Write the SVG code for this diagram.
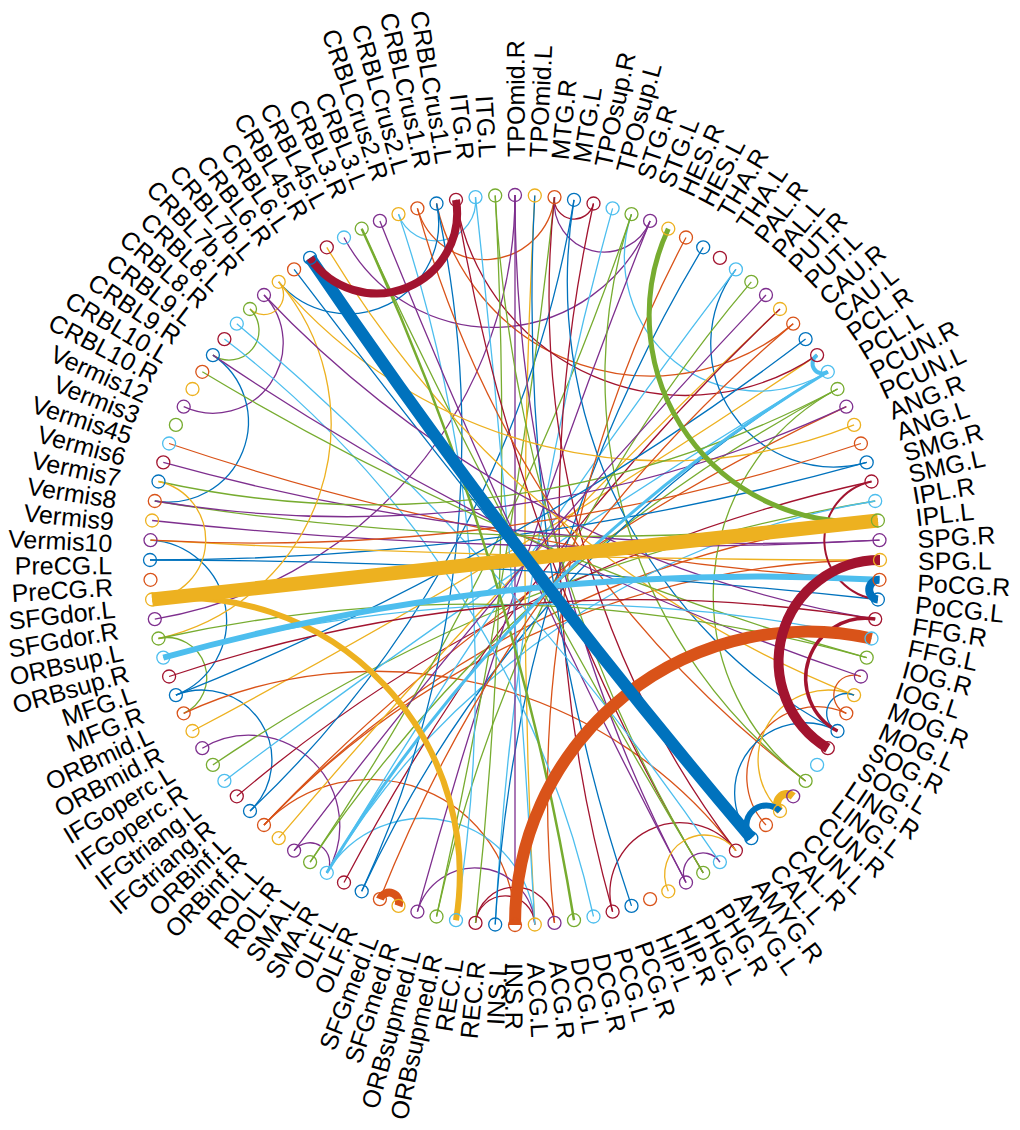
<svg xmlns="http://www.w3.org/2000/svg" width="1020" height="1130" viewBox="0 0 1020 1130">
<style>
.e{fill:none;stroke-width:1.3}
.n{fill:none;stroke-width:1.3}
.B{stroke:#0072BD}.O{stroke:#D95319}.Y{stroke:#EDB120}.P{stroke:#7E2F8E}.G{stroke:#77AC30}.L{stroke:#4DBEEE}.R{stroke:#A2142F}
text{font-family:"Liberation Sans",Arial,sans-serif;font-size:25px;fill:#000}
.r{text-anchor:start}.l{text-anchor:end}
</style>
<rect width="1020" height="1130" fill="#fff"/>
<g id="edges">
<path class="e L" d="M398.5,214.1 A39.7,39.7 0 0 0 475.5,197.1"/>
<path class="e O" d="M417.4,208.3 A70.03,70.03 0 0 0 554.5,197.1"/>
<path class="e R" d="M554.5,197.1 A19.79,19.79 0 0 0 593.5,203.5"/>
<path class="e P" d="M554.5,197.1 A49.73,49.73 0 0 0 650.1,220.9"/>
<path class="e P" d="M344,237.5 A168.8,168.8 0 0 0 650.1,220.9"/>
<path class="e B" d="M278.7,281.8 A90.77,90.77 0 0 0 436.5,203.5"/>
<path class="e P" d="M183.7,406.7 A70.03,70.03 0 0 0 264,295"/>
<path class="e B" d="M154.8,501 A80.34,80.34 0 0 0 212.9,355.1"/>
<path class="e G" d="M183.7,713.3 A39.7,39.7 0 0 0 158.5,638.5"/>
<path class="e B" d="M175.9,695.1 A80.34,80.34 0 0 0 150.5,540.2"/>
<path class="e B" d="M250,811 A70.03,70.03 0 0 0 175.9,695.1"/>
<path class="e P" d="M326.8,872.8 A90.77,90.77 0 0 0 202.3,748.2"/>
<path class="e P" d="M326.8,872.8 A19.79,19.79 0 0 0 294.1,850.6"/>
<path class="e Y" d="M250,309 A19.79,19.79 0 0 0 278.7,281.8"/>
<path class="e G" d="M212.9,355.1 A29.72,29.72 0 0 0 250,309"/>
<path class="e Y" d="M192.5,731 A6734,6734 0 0 0 817.1,355.1"/>
<path class="e G" d="M875.2,501 A1657,1657 0 0 0 212.9,764.9"/>
<path class="e L" d="M631.5,214.1 A134.09,134.09 0 0 0 827.8,371.8"/>
<path class="e O" d="M436.5,203.5 A219.5,219.5 0 0 0 793.2,323.7"/>
<path class="e R" d="M456,199.8 A233.1,233.1 0 0 0 817.1,355.1"/>
<path class="e B" d="M735.9,269.4 A122.98,122.98 0 0 0 866.7,462.4"/>
<path class="e P" d="M154.8,619.1 A430.2,430.2 0 0 0 515,195"/>
<path class="e O" d="M735.9,850.6 A454,454 0 0 0 183.7,713.3"/>
<path class="e L" d="M827.8,371.8 A6734,6734 0 0 0 224.4,780.9"/>
<path class="e R" d="M871.5,481.5 A1467,1467 0 0 0 236.8,796.3"/>
<path class="e B" d="M250,811 A1083,1083 0 0 0 574,199.8"/>
<path class="e O" d="M846.3,406.7 A1899,1899 0 0 0 264,825"/>
<path class="e O" d="M877.9,520.5 A993.3,993.3 0 0 0 264,825"/>
<path class="e O" d="M880,560 A849.6,849.6 0 0 0 264,825"/>
<path class="e O" d="M515,925 A145.42,145.42 0 0 0 264,825"/>
<path class="e Y" d="M780,309 A6734,6734 0 0 0 278.7,838.2"/>
<path class="e G" d="M837.5,389 A1467,1467 0 0 0 310.1,862.1"/>
<path class="e G" d="M310.1,862.1 A2679,2679 0 0 0 631.5,214.1"/>
<path class="e L" d="M875.2,501 A788.9,788.9 0 0 0 326.8,872.8"/>
<path class="e L" d="M735.9,269.4 A6734,6734 0 0 0 326.8,872.8"/>
<path class="e L" d="M534.8,924.5 A112.07,112.07 0 0 0 326.8,872.8"/>
<path class="e R" d="M780,309 A2228,2228 0 0 0 344,882.5"/>
<path class="e B" d="M361.7,891.3 A1083,1083 0 0 0 436.5,203.5"/>
<path class="e B" d="M827.8,371.8 A1188,1188 0 0 0 361.7,891.3"/>
<path class="e P" d="M534.8,924.5 A59.84,59.84 0 0 0 417.4,911.7"/>
<path class="e P" d="M650.1,220.9 A6734,6734 0 0 0 417.4,911.7"/>
<path class="e G" d="M751.3,281.8 A1467,1467 0 0 0 436.5,916.5"/>
<path class="e G" d="M436.5,916.5 A6734,6734 0 0 0 554.5,197.1"/>
<path class="e L" d="M456,920.2 A1467,1467 0 0 0 398.5,214.1"/>
<path class="e R" d="M534.8,924.5 A29.72,29.72 0 0 0 475.5,922.9"/>
<path class="e R" d="M554.5,922.9 A39.7,39.7 0 0 0 475.5,922.9"/>
<path class="e G" d="M475.5,922.9 A4485,4485 0 0 0 495.2,195.5"/>
<path class="e L" d="M612.6,208.3 A3355,3355 0 0 0 495.2,924.5"/>
<path class="e B" d="M703.2,247.3 A1467,1467 0 0 0 495.2,924.5"/>
<path class="e P" d="M515,195 L515,925"/>
<path class="e Y" d="M534.8,195.5 A6734,6734 0 0 0 534.8,924.5"/>
<path class="e L" d="M534.8,924.5 A13469,13469 0 0 0 475.5,197.1"/>
<path class="e O" d="M686,237.5 A1188,1188 0 0 0 554.5,922.9"/>
<path class="e L" d="M593.5,916.5 A993.3,993.3 0 0 0 224.4,339.1"/>
<path class="e R" d="M593.5,203.5 A1467,1467 0 0 0 612.6,911.7"/>
<path class="e R" d="M735.9,850.6 A70.03,70.03 0 0 0 612.6,911.7"/>
<path class="e B" d="M534.8,195.5 A1899,1899 0 0 0 631.5,905.9"/>
<path class="e P" d="M515,195 A1467,1467 0 0 0 686,882.5"/>
<path class="e P" d="M379.9,220.9 A6734,6734 0 0 0 686,882.5"/>
<path class="e R" d="M456,199.8 A1899,1899 0 0 0 703.2,872.8"/>
<path class="e G" d="M495.2,195.5 A1467,1467 0 0 0 703.2,872.8"/>
<path class="e G" d="M361.7,228.7 A6734,6734 0 0 0 703.2,872.8"/>
<path class="e L" d="M719.9,862.1 A2679,2679 0 0 0 236.8,323.7"/>
<path class="e R" d="M554.5,197.1 A916,916 0 0 0 735.9,850.6"/>
<path class="e O" d="M846.3,713.3 A70.03,70.03 0 0 0 766,825"/>
<path class="e O" d="M417.4,208.3 A1083,1083 0 0 0 805.6,780.9"/>
<path class="e G" d="M837.5,389 A233.1,233.1 0 0 0 805.6,780.9"/>
<path class="e G" d="M631.5,214.1 A508.3,508.3 0 0 0 805.6,780.9"/>
<path class="e B" d="M574,199.8 A508.3,508.3 0 0 0 837.5,731"/>
<path class="e B" d="M877.9,599.5 A6734,6734 0 0 0 150,560"/>
<path class="e B" d="M150,560 A2679,2679 0 0 0 866.7,462.4"/>
<path class="e O" d="M169.1,443.5 A2679,2679 0 0 0 879.5,579.8"/>
<path class="e Y" d="M150.5,540.2 A13469,13469 0 0 0 880,560"/>
<path class="e P" d="M152.1,520.5 A4485,4485 0 0 0 879.5,540.2"/>
<path class="e P" d="M163.3,462.4 A2228,2228 0 0 0 879.5,540.2"/>
<path class="e G" d="M154.8,501 A2679,2679 0 0 0 877.9,520.5"/>
<path class="e O" d="M150.5,540.2 A1899,1899 0 0 0 860.9,443.5"/>
<path class="e Y" d="M278.7,281.8 A508.3,508.3 0 0 0 854.1,424.9"/>
<path class="e P" d="M154.8,501 A1188,1188 0 0 0 846.3,406.7"/>
<path class="e G" d="M158.5,481.5 A993.3,993.3 0 0 0 837.5,389"/>
<path class="e B" d="M175.9,695.1 A2679,2679 0 0 0 805.6,339.1"/>
<path class="e Y" d="M326.8,247.3 A1083,1083 0 0 0 854.1,695.1"/>
<path class="e B" d="M294.1,269.4 A13469,13469 0 0 0 751.3,838.2"/>
<path class="e Y" d="M158.5,638.5 A219.5,219.5 0 0 0 278.7,281.8"/>
<path class="e P" d="M264,295 A1083,1083 0 0 0 875.2,619.1"/>
<path class="e P" d="M212.9,355.1 A2679,2679 0 0 0 860.9,676.5"/>
<path class="e G" d="M202.3,371.8 A2679,2679 0 0 0 866.7,657.6"/>
<path class="e G" d="M866.7,657.6 A1467,1467 0 0 0 158.5,638.5"/>
<path class="e Y" d="M152.1,599.5 A59.84,59.84 0 0 0 158.5,481.5"/>
<path class="e L" d="M871.5,638.5 A1467,1467 0 0 0 163.3,657.6"/>
<path class="e R" d="M875.2,619.1 A1467,1467 0 0 0 169.1,676.5"/>
<path class="e P" d="M766,295 A6734,6734 0 0 0 294.1,850.6"/>
<path class="e O" d="M793.2,323.7 A1467,1467 0 0 0 379.9,899.1"/>
<path class="e B" d="M837.5,731 A70.03,70.03 0 0 0 751.3,838.2"/>
<path class="e Y" d="M854.1,695.1 A70.03,70.03 0 0 0 780,811"/>
<path class="e Y" d="M735.9,850.6 A39.7,39.7 0 0 0 668.3,891.3"/>
<path class="e P" d="M719.9,862.1 A19.79,19.79 0 0 0 686,882.5"/>
<path class="e B" d="M854.1,695.1 A19.79,19.79 0 0 0 837.5,731"/>
<path class="e O" d="M860.9,676.5 A19.79,19.79 0 0 0 846.3,713.3"/>
<path class="e R" style="stroke-width:2" d="M871.5,481.5 A59.84,59.84 0 0 0 877.9,599.5"/>
<path class="e G" style="stroke-width:2.5" d="M574,920.2 A2679,2679 0 0 0 361.7,228.7"/>
<path class="e L" style="stroke-width:3" d="M827.8,371.8 A1467,1467 0 0 0 326.8,872.8"/>
<path class="e R" style="stroke-width:3.5" d="M875.2,619.1 A59.84,59.84 0 0 0 837.5,731"/>
<path class="e Y" style="stroke-width:6" d="M456,920.2 A277,277 0 0 0 152.1,599.5"/>
<path class="e G" style="stroke-width:5" d="M668.3,228.7 A206.3,206.3 0 0 0 877.9,520.5"/>
<path class="e Y" style="stroke-width:14" d="M152.1,599.5 L877.9,520.5"/>
<path class="e L" style="stroke-width:6" d="M879.5,579.8 A2228,2228 0 0 0 163.3,657.6"/>
<path class="e O" style="stroke-width:12" d="M871.5,638.5 A292.8,292.8 0 0 0 515,925"/>
<path class="e B" style="stroke-width:12" d="M310.1,257.9 A6734,6734 0 0 0 751.3,838.2"/>
<path class="e R" style="stroke-width:10" d="M880,560 A101.34,101.34 0 0 0 827.8,748.2"/>
<path class="e R" style="stroke-width:8" d="M310.1,257.9 A80.34,80.34 0 0 0 456,199.8"/>
<path class="e O" style="stroke-width:8" d="M398.5,905.9 A9.89,9.89 0 0 0 379.9,899.1"/>
<path class="e Y" style="stroke-width:8" d="M793.2,796.3 A9.89,9.89 0 0 0 780,811"/>
<path class="e B" style="stroke-width:6" d="M780,811 A19.79,19.79 0 0 0 751.3,838.2"/>
<path class="e B" style="stroke-width:8" d="M879.5,579.8 A9.89,9.89 0 0 0 877.9,599.5"/>
<path class="e L" style="stroke-width:4" d="M817.1,355.1 A9.89,9.89 0 0 0 827.8,371.8"/>
</g>
<g id="nodes">
<g id="n1"><circle class="n B" cx="150" cy="560" r="6.5"/><text class="l" transform="rotate(-0.3 515 560)" x="112" y="572">PreCG.L</text></g>
<g id="n2"><circle class="n O" cx="150.5" cy="579.8" r="6.5"/><text class="l" transform="rotate(-3.4 515 560)" x="112" y="572">PreCG.R</text></g>
<g id="n3"><circle class="n Y" cx="152.1" cy="599.5" r="6.5"/><text class="l" transform="rotate(-6.51 515 560)" x="112" y="572">SFGdor.L</text></g>
<g id="n4"><circle class="n P" cx="154.8" cy="619.1" r="6.5"/><text class="l" transform="rotate(-9.61 515 560)" x="112" y="572">SFGdor.R</text></g>
<g id="n5"><circle class="n G" cx="158.5" cy="638.5" r="6.5"/><text class="l" transform="rotate(-12.71 515 560)" x="112" y="572">ORBsup.L</text></g>
<g id="n6"><circle class="n L" cx="163.3" cy="657.6" r="6.5"/><text class="l" transform="rotate(-15.82 515 560)" x="112" y="572">ORBsup.R</text></g>
<g id="n7"><circle class="n R" cx="169.1" cy="676.5" r="6.5"/><text class="l" transform="rotate(-18.92 515 560)" x="112" y="572">MFG.L</text></g>
<g id="n8"><circle class="n B" cx="175.9" cy="695.1" r="6.5"/><text class="l" transform="rotate(-22.02 515 560)" x="112" y="572">MFG.R</text></g>
<g id="n9"><circle class="n O" cx="183.7" cy="713.3" r="6.5"/><text class="l" transform="rotate(-25.13 515 560)" x="112" y="572">ORBmid.L</text></g>
<g id="n10"><circle class="n Y" cx="192.5" cy="731" r="6.5"/><text class="l" transform="rotate(-28.23 515 560)" x="112" y="572">ORBmid.R</text></g>
<g id="n11"><circle class="n P" cx="202.3" cy="748.2" r="6.5"/><text class="l" transform="rotate(-31.33 515 560)" x="112" y="572">IFGoperc.L</text></g>
<g id="n12"><circle class="n G" cx="212.9" cy="764.9" r="6.5"/><text class="l" transform="rotate(-34.44 515 560)" x="112" y="572">IFGoperc.R</text></g>
<g id="n13"><circle class="n L" cx="224.4" cy="780.9" r="6.5"/><text class="l" transform="rotate(-37.54 515 560)" x="112" y="572">IFGtriang.L</text></g>
<g id="n14"><circle class="n R" cx="236.8" cy="796.3" r="6.5"/><text class="l" transform="rotate(-40.65 515 560)" x="112" y="572">IFGtriang.R</text></g>
<g id="n15"><circle class="n B" cx="250" cy="811" r="6.5"/><text class="l" transform="rotate(-43.75 515 560)" x="112" y="572">ORBinf.L</text></g>
<g id="n16"><circle class="n O" cx="264" cy="825" r="6.5"/><text class="l" transform="rotate(-46.85 515 560)" x="112" y="572">ORBinf.R</text></g>
<g id="n17"><circle class="n Y" cx="278.7" cy="838.2" r="6.5"/><text class="l" transform="rotate(-49.96 515 560)" x="112" y="572">ROL.L</text></g>
<g id="n18"><circle class="n P" cx="294.1" cy="850.6" r="6.5"/><text class="l" transform="rotate(-53.06 515 560)" x="112" y="572">ROL.R</text></g>
<g id="n19"><circle class="n G" cx="310.1" cy="862.1" r="6.5"/><text class="l" transform="rotate(-56.16 515 560)" x="112" y="572">SMA.L</text></g>
<g id="n20"><circle class="n L" cx="326.8" cy="872.8" r="6.5"/><text class="l" transform="rotate(-59.27 515 560)" x="112" y="572">SMA.R</text></g>
<g id="n21"><circle class="n R" cx="344" cy="882.5" r="6.5"/><text class="l" transform="rotate(-62.37 515 560)" x="112" y="572">OLF.L</text></g>
<g id="n22"><circle class="n B" cx="361.7" cy="891.3" r="6.5"/><text class="l" transform="rotate(-65.47 515 560)" x="112" y="572">OLF.R</text></g>
<g id="n23"><circle class="n O" cx="379.9" cy="899.1" r="6.5"/><text class="l" transform="rotate(-68.58 515 560)" x="112" y="572">SFGmed.L</text></g>
<g id="n24"><circle class="n Y" cx="398.5" cy="905.9" r="6.5"/><text class="l" transform="rotate(-71.68 515 560)" x="112" y="572">SFGmed.R</text></g>
<g id="n25"><circle class="n P" cx="417.4" cy="911.7" r="6.5"/><text class="l" transform="rotate(-74.78 515 560)" x="112" y="572">ORBsupmed.L</text></g>
<g id="n26"><circle class="n G" cx="436.5" cy="916.5" r="6.5"/><text class="l" transform="rotate(-77.89 515 560)" x="112" y="572">ORBsupmed.R</text></g>
<g id="n27"><circle class="n L" cx="456" cy="920.2" r="6.5"/><text class="l" transform="rotate(-80.99 515 560)" x="112" y="572">REC.L</text></g>
<g id="n28"><circle class="n R" cx="475.5" cy="922.9" r="6.5"/><text class="l" transform="rotate(-84.09 515 560)" x="112" y="572">REC.R</text></g>
<g id="n29"><circle class="n B" cx="495.2" cy="924.5" r="6.5"/><text class="l" transform="rotate(-87.2 515 560)" x="112" y="572">INS.L</text></g>
<g id="n30"><circle class="n O" cx="515" cy="925" r="6.5"/><text class="r" transform="rotate(89.7 515 560)" x="918" y="572">INS.R</text></g>
<g id="n31"><circle class="n Y" cx="534.8" cy="924.5" r="6.5"/><text class="r" transform="rotate(86.6 515 560)" x="918" y="572">ACG.L</text></g>
<g id="n32"><circle class="n P" cx="554.5" cy="922.9" r="6.5"/><text class="r" transform="rotate(83.49 515 560)" x="918" y="572">ACG.R</text></g>
<g id="n33"><circle class="n G" cx="574" cy="920.2" r="6.5"/><text class="r" transform="rotate(80.39 515 560)" x="918" y="572">DCG.L</text></g>
<g id="n34"><circle class="n L" cx="593.5" cy="916.5" r="6.5"/><text class="r" transform="rotate(77.29 515 560)" x="918" y="572">DCG.R</text></g>
<g id="n35"><circle class="n R" cx="612.6" cy="911.7" r="6.5"/><text class="r" transform="rotate(74.18 515 560)" x="918" y="572">PCG.L</text></g>
<g id="n36"><circle class="n B" cx="631.5" cy="905.9" r="6.5"/><text class="r" transform="rotate(71.08 515 560)" x="918" y="572">PCG.R</text></g>
<g id="n37"><circle class="n O" cx="650.1" cy="899.1" r="6.5"/><text class="r" transform="rotate(67.98 515 560)" x="918" y="572">HIP.L</text></g>
<g id="n38"><circle class="n Y" cx="668.3" cy="891.3" r="6.5"/><text class="r" transform="rotate(64.87 515 560)" x="918" y="572">HIP.R</text></g>
<g id="n39"><circle class="n P" cx="686" cy="882.5" r="6.5"/><text class="r" transform="rotate(61.77 515 560)" x="918" y="572">PHG.L</text></g>
<g id="n40"><circle class="n G" cx="703.2" cy="872.8" r="6.5"/><text class="r" transform="rotate(58.67 515 560)" x="918" y="572">PHG.R</text></g>
<g id="n41"><circle class="n L" cx="719.9" cy="862.1" r="6.5"/><text class="r" transform="rotate(55.56 515 560)" x="918" y="572">AMYG.L</text></g>
<g id="n42"><circle class="n R" cx="735.9" cy="850.6" r="6.5"/><text class="r" transform="rotate(52.46 515 560)" x="918" y="572">AMYG.R</text></g>
<g id="n43"><circle class="n B" cx="751.3" cy="838.2" r="6.5"/><text class="r" transform="rotate(49.36 515 560)" x="918" y="572">CAL.L</text></g>
<g id="n44"><circle class="n O" cx="766" cy="825" r="6.5"/><text class="r" transform="rotate(46.25 515 560)" x="918" y="572">CAL.R</text></g>
<g id="n45"><circle class="n Y" cx="780" cy="811" r="6.5"/><text class="r" transform="rotate(43.15 515 560)" x="918" y="572">CUN.L</text></g>
<g id="n46"><circle class="n P" cx="793.2" cy="796.3" r="6.5"/><text class="r" transform="rotate(40.04 515 560)" x="918" y="572">CUN.R</text></g>
<g id="n47"><circle class="n G" cx="805.6" cy="780.9" r="6.5"/><text class="r" transform="rotate(36.94 515 560)" x="918" y="572">LING.L</text></g>
<g id="n48"><circle class="n L" cx="817.1" cy="764.9" r="6.5"/><text class="r" transform="rotate(33.84 515 560)" x="918" y="572">LING.R</text></g>
<g id="n49"><circle class="n R" cx="827.8" cy="748.2" r="6.5"/><text class="r" transform="rotate(30.73 515 560)" x="918" y="572">SOG.L</text></g>
<g id="n50"><circle class="n B" cx="837.5" cy="731" r="6.5"/><text class="r" transform="rotate(27.63 515 560)" x="918" y="572">SOG.R</text></g>
<g id="n51"><circle class="n O" cx="846.3" cy="713.3" r="6.5"/><text class="r" transform="rotate(24.53 515 560)" x="918" y="572">MOG.L</text></g>
<g id="n52"><circle class="n Y" cx="854.1" cy="695.1" r="6.5"/><text class="r" transform="rotate(21.42 515 560)" x="918" y="572">MOG.R</text></g>
<g id="n53"><circle class="n P" cx="860.9" cy="676.5" r="6.5"/><text class="r" transform="rotate(18.32 515 560)" x="918" y="572">IOG.L</text></g>
<g id="n54"><circle class="n G" cx="866.7" cy="657.6" r="6.5"/><text class="r" transform="rotate(15.22 515 560)" x="918" y="572">IOG.R</text></g>
<g id="n55"><circle class="n L" cx="871.5" cy="638.5" r="6.5"/><text class="r" transform="rotate(12.11 515 560)" x="918" y="572">FFG.L</text></g>
<g id="n56"><circle class="n R" cx="875.2" cy="619.1" r="6.5"/><text class="r" transform="rotate(9.01 515 560)" x="918" y="572">FFG.R</text></g>
<g id="n57"><circle class="n B" cx="877.9" cy="599.5" r="6.5"/><text class="r" transform="rotate(5.91 515 560)" x="918" y="572">PoCG.L</text></g>
<g id="n58"><circle class="n O" cx="879.5" cy="579.8" r="6.5"/><text class="r" transform="rotate(2.8 515 560)" x="918" y="572">PoCG.R</text></g>
<g id="n59"><circle class="n Y" cx="880" cy="560" r="6.5"/><text class="r" transform="rotate(-0.3 515 560)" x="918" y="572">SPG.L</text></g>
<g id="n60"><circle class="n P" cx="879.5" cy="540.2" r="6.5"/><text class="r" transform="rotate(-3.4 515 560)" x="918" y="572">SPG.R</text></g>
<g id="n61"><circle class="n G" cx="877.9" cy="520.5" r="6.5"/><text class="r" transform="rotate(-6.51 515 560)" x="918" y="572">IPL.L</text></g>
<g id="n62"><circle class="n L" cx="875.2" cy="501" r="6.5"/><text class="r" transform="rotate(-9.61 515 560)" x="918" y="572">IPL.R</text></g>
<g id="n63"><circle class="n R" cx="871.5" cy="481.5" r="6.5"/><text class="r" transform="rotate(-12.71 515 560)" x="918" y="572">SMG.L</text></g>
<g id="n64"><circle class="n B" cx="866.7" cy="462.4" r="6.5"/><text class="r" transform="rotate(-15.82 515 560)" x="918" y="572">SMG.R</text></g>
<g id="n65"><circle class="n O" cx="860.9" cy="443.5" r="6.5"/><text class="r" transform="rotate(-18.92 515 560)" x="918" y="572">ANG.L</text></g>
<g id="n66"><circle class="n Y" cx="854.1" cy="424.9" r="6.5"/><text class="r" transform="rotate(-22.02 515 560)" x="918" y="572">ANG.R</text></g>
<g id="n67"><circle class="n P" cx="846.3" cy="406.7" r="6.5"/><text class="r" transform="rotate(-25.13 515 560)" x="918" y="572">PCUN.L</text></g>
<g id="n68"><circle class="n G" cx="837.5" cy="389" r="6.5"/><text class="r" transform="rotate(-28.23 515 560)" x="918" y="572">PCUN.R</text></g>
<g id="n69"><circle class="n L" cx="827.8" cy="371.8" r="6.5"/><text class="r" transform="rotate(-31.33 515 560)" x="918" y="572">PCL.L</text></g>
<g id="n70"><circle class="n R" cx="817.1" cy="355.1" r="6.5"/><text class="r" transform="rotate(-34.44 515 560)" x="918" y="572">PCL.R</text></g>
<g id="n71"><circle class="n B" cx="805.6" cy="339.1" r="6.5"/><text class="r" transform="rotate(-37.54 515 560)" x="918" y="572">CAU.L</text></g>
<g id="n72"><circle class="n O" cx="793.2" cy="323.7" r="6.5"/><text class="r" transform="rotate(-40.65 515 560)" x="918" y="572">CAU.R</text></g>
<g id="n73"><circle class="n Y" cx="780" cy="309" r="6.5"/><text class="r" transform="rotate(-43.75 515 560)" x="918" y="572">PUT.L</text></g>
<g id="n74"><circle class="n P" cx="766" cy="295" r="6.5"/><text class="r" transform="rotate(-46.85 515 560)" x="918" y="572">PUT.R</text></g>
<g id="n75"><circle class="n G" cx="751.3" cy="281.8" r="6.5"/><text class="r" transform="rotate(-49.96 515 560)" x="918" y="572">PAL.L</text></g>
<g id="n76"><circle class="n L" cx="735.9" cy="269.4" r="6.5"/><text class="r" transform="rotate(-53.06 515 560)" x="918" y="572">PAL.R</text></g>
<g id="n77"><circle class="n R" cx="719.9" cy="257.9" r="6.5"/><text class="r" transform="rotate(-56.16 515 560)" x="918" y="572">THA.L</text></g>
<g id="n78"><circle class="n B" cx="703.2" cy="247.3" r="6.5"/><text class="r" transform="rotate(-59.27 515 560)" x="918" y="572">THA.R</text></g>
<g id="n79"><circle class="n O" cx="686" cy="237.5" r="6.5"/><text class="r" transform="rotate(-62.37 515 560)" x="918" y="572">HES.L</text></g>
<g id="n80"><circle class="n Y" cx="668.3" cy="228.7" r="6.5"/><text class="r" transform="rotate(-65.47 515 560)" x="918" y="572">HES.R</text></g>
<g id="n81"><circle class="n P" cx="650.1" cy="220.9" r="6.5"/><text class="r" transform="rotate(-68.58 515 560)" x="918" y="572">STG.L</text></g>
<g id="n82"><circle class="n G" cx="631.5" cy="214.1" r="6.5"/><text class="r" transform="rotate(-71.68 515 560)" x="918" y="572">STG.R</text></g>
<g id="n83"><circle class="n L" cx="612.6" cy="208.3" r="6.5"/><text class="r" transform="rotate(-74.78 515 560)" x="918" y="572">TPOsup.L</text></g>
<g id="n84"><circle class="n R" cx="593.5" cy="203.5" r="6.5"/><text class="r" transform="rotate(-77.89 515 560)" x="918" y="572">TPOsup.R</text></g>
<g id="n85"><circle class="n B" cx="574" cy="199.8" r="6.5"/><text class="r" transform="rotate(-80.99 515 560)" x="918" y="572">MTG.L</text></g>
<g id="n86"><circle class="n O" cx="554.5" cy="197.1" r="6.5"/><text class="r" transform="rotate(-84.09 515 560)" x="918" y="572">MTG.R</text></g>
<g id="n87"><circle class="n Y" cx="534.8" cy="195.5" r="6.5"/><text class="r" transform="rotate(-87.2 515 560)" x="918" y="572">TPOmid.L</text></g>
<g id="n88"><circle class="n P" cx="515" cy="195" r="6.5"/><text class="r" transform="rotate(-90.3 515 560)" x="918" y="572">TPOmid.R</text></g>
<g id="n89"><circle class="n G" cx="495.2" cy="195.5" r="6.5"/><text class="l" transform="rotate(86.6 515 560)" x="112" y="572">ITG.L</text></g>
<g id="n90"><circle class="n L" cx="475.5" cy="197.1" r="6.5"/><text class="l" transform="rotate(83.49 515 560)" x="112" y="572">ITG.R</text></g>
<g id="n91"><circle class="n R" cx="456" cy="199.8" r="6.5"/><text class="l" transform="rotate(80.39 515 560)" x="112" y="572">CRBLCrus1.L</text></g>
<g id="n92"><circle class="n B" cx="436.5" cy="203.5" r="6.5"/><text class="l" transform="rotate(77.29 515 560)" x="112" y="572">CRBLCrus1.R</text></g>
<g id="n93"><circle class="n O" cx="417.4" cy="208.3" r="6.5"/><text class="l" transform="rotate(74.18 515 560)" x="112" y="572">CRBLCrus2.L</text></g>
<g id="n94"><circle class="n Y" cx="398.5" cy="214.1" r="6.5"/><text class="l" transform="rotate(71.08 515 560)" x="112" y="572">CRBLCrus2.R</text></g>
<g id="n95"><circle class="n P" cx="379.9" cy="220.9" r="6.5"/><text class="l" transform="rotate(67.98 515 560)" x="112" y="572">CRBL3.L</text></g>
<g id="n96"><circle class="n G" cx="361.7" cy="228.7" r="6.5"/><text class="l" transform="rotate(64.87 515 560)" x="112" y="572">CRBL3.R</text></g>
<g id="n97"><circle class="n L" cx="344" cy="237.5" r="6.5"/><text class="l" transform="rotate(61.77 515 560)" x="112" y="572">CRBL45.L</text></g>
<g id="n98"><circle class="n R" cx="326.8" cy="247.3" r="6.5"/><text class="l" transform="rotate(58.67 515 560)" x="112" y="572">CRBL45.R</text></g>
<g id="n99"><circle class="n B" cx="310.1" cy="257.9" r="6.5"/><text class="l" transform="rotate(55.56 515 560)" x="112" y="572">CRBL6.L</text></g>
<g id="n100"><circle class="n O" cx="294.1" cy="269.4" r="6.5"/><text class="l" transform="rotate(52.46 515 560)" x="112" y="572">CRBL6.R</text></g>
<g id="n101"><circle class="n Y" cx="278.7" cy="281.8" r="6.5"/><text class="l" transform="rotate(49.36 515 560)" x="112" y="572">CRBL7b.L</text></g>
<g id="n102"><circle class="n P" cx="264" cy="295" r="6.5"/><text class="l" transform="rotate(46.25 515 560)" x="112" y="572">CRBL7b.R</text></g>
<g id="n103"><circle class="n G" cx="250" cy="309" r="6.5"/><text class="l" transform="rotate(43.15 515 560)" x="112" y="572">CRBL8.L</text></g>
<g id="n104"><circle class="n L" cx="236.8" cy="323.7" r="6.5"/><text class="l" transform="rotate(40.04 515 560)" x="112" y="572">CRBL8.R</text></g>
<g id="n105"><circle class="n R" cx="224.4" cy="339.1" r="6.5"/><text class="l" transform="rotate(36.94 515 560)" x="112" y="572">CRBL9.L</text></g>
<g id="n106"><circle class="n B" cx="212.9" cy="355.1" r="6.5"/><text class="l" transform="rotate(33.84 515 560)" x="112" y="572">CRBL9.R</text></g>
<g id="n107"><circle class="n O" cx="202.3" cy="371.8" r="6.5"/><text class="l" transform="rotate(30.73 515 560)" x="112" y="572">CRBL10.L</text></g>
<g id="n108"><circle class="n Y" cx="192.5" cy="389" r="6.5"/><text class="l" transform="rotate(27.63 515 560)" x="112" y="572">CRBL10.R</text></g>
<g id="n109"><circle class="n P" cx="183.7" cy="406.7" r="6.5"/><text class="l" transform="rotate(24.53 515 560)" x="112" y="572">Vermis12</text></g>
<g id="n110"><circle class="n G" cx="175.9" cy="424.9" r="6.5"/><text class="l" transform="rotate(21.42 515 560)" x="112" y="572">Vermis3</text></g>
<g id="n111"><circle class="n L" cx="169.1" cy="443.5" r="6.5"/><text class="l" transform="rotate(18.32 515 560)" x="112" y="572">Vermis45</text></g>
<g id="n112"><circle class="n R" cx="163.3" cy="462.4" r="6.5"/><text class="l" transform="rotate(15.22 515 560)" x="112" y="572">Vermis6</text></g>
<g id="n113"><circle class="n B" cx="158.5" cy="481.5" r="6.5"/><text class="l" transform="rotate(12.11 515 560)" x="112" y="572">Vermis7</text></g>
<g id="n114"><circle class="n O" cx="154.8" cy="501" r="6.5"/><text class="l" transform="rotate(9.01 515 560)" x="112" y="572">Vermis8</text></g>
<g id="n115"><circle class="n Y" cx="152.1" cy="520.5" r="6.5"/><text class="l" transform="rotate(5.91 515 560)" x="112" y="572">Vermis9</text></g>
<g id="n116"><circle class="n P" cx="150.5" cy="540.2" r="6.5"/><text class="l" transform="rotate(2.8 515 560)" x="112" y="572">Vermis10</text></g>
</g>
</svg>
